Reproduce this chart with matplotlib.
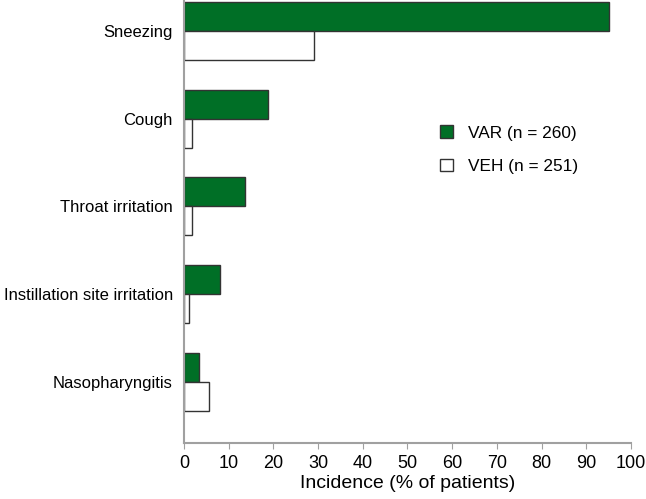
import numpy as np
import matplotlib.pyplot as plt

plt.rcParams['font.family'] = ['Liberation Sans', 'DejaVu Sans']

# Данные
categories = ['Sneezing', 'Cough', 'Throat irritation',
              'Instillation site irritation', 'Nasopharyngitis']
var_values = [95.0, 18.8, 13.6, 8.0, 3.4]
veh_values = [29.0, 1.9, 1.9, 1.1, 5.6]
labels = ['VAR (n = 260)', 'VEH (n = 251)']

green = '#006f26'
edge = '#333333'
grey = '#a0a0a0'

fig = plt.figure(figsize=(6.46, 4.99), dpi=100)
ax = fig.add_axes([0.2848, 0.1128, 0.692, 0.887])

pos = np.arange(len(categories))[::-1]
h = 0.33
ax.barh(pos + h / 2, var_values, height=h, color=green, edgecolor=edge,
        linewidth=1, label=labels[0])
ax.barh(pos - h / 2, veh_values, height=h, color='white', edgecolor=edge,
        linewidth=1, label=labels[1])

ax.set_xlim(0, 100)
ax.set_ylim(-0.69, 4.35)
ax.set_xticks(np.arange(0, 101, 10))
ax.set_yticks(pos)
ax.set_yticklabels(categories, fontsize=12)
ax.tick_params(axis='y', length=0, pad=8)
ax.tick_params(axis='x', direction='out', length=4, color=grey, labelsize=13, pad=5)
ax.set_xlabel('Incidence (% of patients)', fontsize=14, labelpad=2)

for s in ['top', 'right']:
    ax.spines[s].set_visible(False)
for s in ['left', 'bottom']:
    ax.spines[s].set_color(grey)
    ax.spines[s].set_linewidth(1.5)

ax.legend(loc='upper left', bbox_to_anchor=(0.538, 0.752), frameon=False,
          fontsize=12.4, handlelength=0.75, handleheight=0.75, labelspacing=1.05,
          handletextpad=0.9)

fig.savefig('out.png', dpi=100)
